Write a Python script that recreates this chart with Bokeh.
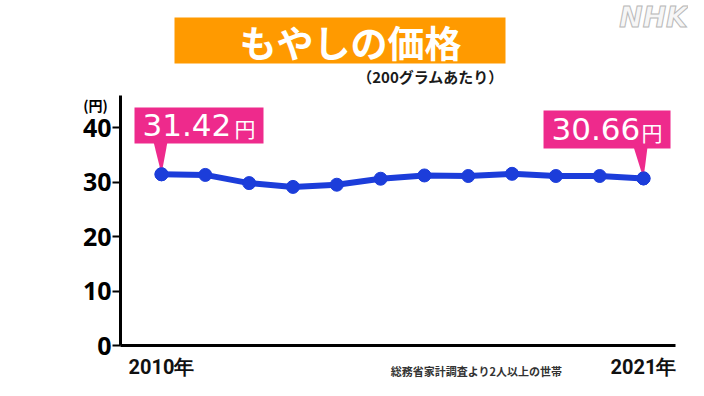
from bokeh.plotting import figure
from bokeh.models import Range1d, FixedTicker, ColumnDataSource
from bokeh.core.properties import value
from bokeh.embed import file_html
from bokeh.resources import INLINE

# ---- data ----
years = [2010, 2011, 2012, 2013, 2014, 2015, 2016, 2017, 2018, 2019, 2020, 2021]
prices = [31.42, 31.3, 29.8, 29.1, 29.5, 30.6, 31.2, 31.1, 31.5, 31.1, 31.1, 30.66]
y_ticks = [0, 10, 20, 30, 40]
x_tick_labels = {2010: "2010年", 2021: "2021年"}
title_text = "もやしの価格"
subtitle_text = "（200グラムあたり）"
unit_text = "(円)"
source_text = "総務省家計調査より2人以上の世帯"

ORANGE = "#FF9A00"
PINK = "#EE2A8C"
BLUE = "#1C3DDA"

# layout mapping (canvas pixels -> data), used for decorations only
PX_YEAR = 43.82
PX_UNIT = 5.45
X0_PX, Y0_PX = 161, 345


def X(px):
    return years[0] + (px - X0_PX) / PX_YEAR


def Y(py):
    return (Y0_PX - py) / PX_UNIT


W, H = 688, 380
p = figure(width=W, height=H, output_backend="svg", toolbar_location=None,
           x_range=Range1d(X(0), X(W)), y_range=Range1d(Y(H), Y(0)),
           min_border_left=0, min_border_right=0, min_border_top=0, min_border_bottom=0)
p.background_fill_color = "white"
p.border_fill_color = "white"
p.outline_line_color = None
p.xgrid.visible = False
p.ygrid.visible = False

# y axis
ya = p.yaxis[0]
ya.fixed_location = X(120)
ya.ticker = FixedTicker(ticks=y_ticks)
ya.bounds = (0, Y(95))
ya.axis_line_width = 3
ya.axis_line_color = "black"
ya.major_tick_out = 8
ya.major_tick_in = 0
ya.major_tick_line_width = 2
ya.minor_tick_out = 0
ya.minor_tick_in = 0
ya.major_label_standoff = 1
ya.major_label_text_font = "Noto Sans"
ya.major_label_text_font_style = "bold"
ya.major_label_text_font_size = "25px"
ya.major_label_text_color = "black"

# x axis
xa = p.xaxis[0]
xa.fixed_location = 0
xa.ticker = FixedTicker(ticks=list(x_tick_labels.keys()))
xa.major_label_overrides = x_tick_labels
xa.bounds = (X(120), X(675))
xa.axis_line_width = 3
xa.axis_line_color = "black"
xa.major_tick_out = 0
xa.major_tick_in = 0
xa.minor_tick_out = 0
xa.minor_tick_in = 0
xa.major_label_standoff = 9
xa.major_label_text_font = "Roboto"
xa.major_label_text_font_style = "bold"
xa.major_label_text_font_size = "20px"
xa.major_label_text_color = "#111111"

# title box
p.quad(left=[X(174)], right=[X(505)], top=[Y(17)], bottom=[Y(63)],
       fill_color=ORANGE, line_color=None)
p.text(x=[X(350)], y=[Y(41)], text=[title_text], text_color="white",
       text_font=value("Noto Sans CJK JP"), text_font_style="bold",
       text_font_size="37px", text_align="center", text_baseline="middle")
p.text(x=[X(430)], y=[Y(76)], text=[subtitle_text], text_color="#1a1a1a",
       text_font=value("Noto Sans CJK JP"), text_font_style="bold",
       text_font_size="15px", text_align="center", text_baseline="middle")

# NHK mark
p.text(x=[X(653)], y=[Y(17)], text=["NHK"], text_color="#f6f6f6",
       text_outline_color="#b8b8b8",
       text_font=value("DejaVu Sans"), text_font_style="bold italic",
       text_font_size="28px", text_align="center", text_baseline="middle")

# unit label
p.text(x=[X(95)], y=[Y(104)], text=[unit_text], text_color="black",
       text_font=value("Noto Sans CJK JP"), text_font_style="bold",
       text_font_size="14px", text_align="center", text_baseline="middle")

# source label
p.text(x=[X(476)], y=[Y(370)], text=[source_text], text_color="#333333",
       text_font=value("Noto Sans CJK JP"), text_font_style="bold",
       text_font_size="11px", text_align="center", text_baseline="middle")

# data line
src = ColumnDataSource(dict(x=years, y=prices))
p.line("x", "y", source=src, line_color=BLUE, line_width=6)
p.scatter("x", "y", source=src, size=13, fill_color=BLUE, line_color=BLUE)

# callouts (first and last values)
dx = 1 / PX_YEAR
callouts = [
    # (index, box left px offset, right offset, top py, bottom py, pointer base offsets)
    (0, -27, 102, 107, 143, (-8, 6)),
    (len(years) - 1, -100, 27, 110, 148, (-10, 4)),
]
for idx, l_off, r_off, top_py, bot_py, (b0, b1) in callouts:
    xv, yv = years[idx], prices[idx]
    p.quad(left=[xv + l_off * dx], right=[xv + r_off * dx], top=[Y(top_py)], bottom=[Y(bot_py)],
           fill_color=PINK, line_color=None)
    p.patch(x=[xv + b0 * dx, xv + b1 * dx, xv], y=[Y(bot_py) + 0.3, Y(bot_py) + 0.3, yv],
            fill_color=PINK, line_color=None)
    mid = (Y(top_py) + Y(bot_py)) / 2
    num = f"{prices[idx]:.2f}"
    p.text(x=[xv + (l_off + 8) * dx], y=[mid + 0.1], text=[num], text_color="white",
           text_font=value("DejaVu Sans"), text_font_size="31px",
           text_align="left", text_baseline="middle")
    p.text(x=[xv + (r_off - 8) * dx], y=[mid - 0.4], text=["円"], text_color="white",
           text_font=value("Noto Sans CJK JP"), text_font_size="21px",
           text_align="right", text_baseline="middle")

# re-draw data points on top of pointer tips
p.scatter(x=[years[0], years[-1]], y=[prices[0], prices[-1]], size=13,
          fill_color=BLUE, line_color=BLUE)

open("out.html", "w").write(file_html(p, INLINE))
